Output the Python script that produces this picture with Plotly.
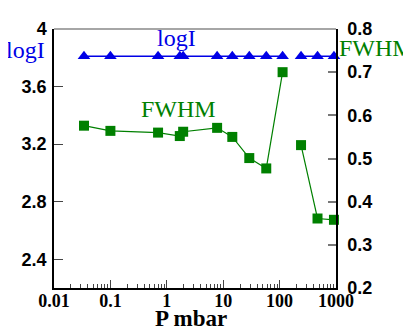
import plotly.graph_objects as go

# Data
pressure_mbar = [0.034, 0.1, 0.7, 1.7, 1.95, 7.8, 14.5, 29, 58, 113, 240, 470, 920]
log_i = [3.81, 3.81, 3.81, 3.81, 3.81, 3.81, 3.81, 3.81, 3.81, 3.81, 3.81, 3.81, 3.81]
fwhm = [0.576, 0.564, 0.560, 0.552, 0.562, 0.571, 0.550, 0.501, 0.477, 0.700, 0.531, 0.361, 0.358]
gap_after_index = 9  # the lines break between 113 and 240 mbar

x_ticks = [0.01, 0.1, 1, 10, 100, 1000]
x_ticktext = ["0.01", "0.1", "1", "10", "100", "1000"]
y_ticks = [2.4, 2.8, 3.2, 3.6, 4]
y_ticktext = ["2.4", "2.8", "3.2", "3.6", "4"]
y2_ticks = [0.2, 0.3, 0.4, 0.5, 0.6, 0.7, 0.8]
y2_ticktext = ["0.2", "0.3", "0.4", "0.5", "0.6", "0.7", "0.8"]


def with_gap(xs, ys, idx):
    gx = list(xs[: idx + 1]) + [None] + list(xs[idx + 1:])
    gy = list(ys[: idx + 1]) + [None] + list(ys[idx + 1:])
    return gx, gy


BLUE = "rgb(0,0,230)"
GREEN = "rgb(0,128,0)"
SERIF = "Liberation Serif"
SANS = "Liberation Sans"

fig = go.Figure()
gx, gy = with_gap(pressure_mbar, log_i, gap_after_index)
fig.add_trace(go.Scatter(
    x=gx, y=gy, mode="lines+markers", yaxis="y", connectgaps=False,
    line=dict(color=BLUE, width=1.5),
    marker=dict(symbol="triangle-up", size=11, color=BLUE),
    showlegend=False, cliponaxis=False,
))
gx2, gy2 = with_gap(pressure_mbar, fwhm, gap_after_index)
fig.add_trace(go.Scatter(
    x=gx2, y=gy2, mode="lines+markers", yaxis="y2", connectgaps=False,
    line=dict(color=GREEN, width=1.2),
    marker=dict(symbol="square", size=10, color=GREEN),
    showlegend=False, cliponaxis=False,
))

fig.update_layout(
    width=411, height=331,
    margin=dict(l=46, r=83, t=21, b=51, autoexpand=False),
    paper_bgcolor="white", plot_bgcolor="white",
    xaxis=dict(
        type="log", range=[-2, 3], tickvals=x_ticks, ticktext=x_ticktext,
        ticks="inside", ticklen=8, tickcolor="#444", tickwidth=1,
        showline=True, linecolor="black", linewidth=1.5,
        showgrid=False, zeroline=False,
        tickfont=dict(family=SERIF, size=18, color="black", weight="bold"),
        minor=dict(ticks="inside", ticklen=4, tickcolor="#444", dtick="D1", showgrid=False),
        ticklabelstandoff=-4,
        automargin=False,
    ),
    yaxis=dict(
        range=[2.2, 4], tickvals=y_ticks, ticktext=y_ticktext,
        ticks="inside", ticklen=9, tickcolor="#444", tickwidth=1,
        showline=True, linecolor="black", linewidth=1.5,
        showgrid=False, zeroline=False,
        tickfont=dict(family=SANS, size=18, color="black", weight="bold"),
        ticklabelstandoff=2, automargin=False,
    ),
    yaxis2=dict(
        range=[0.2, 0.8], tickvals=y2_ticks, ticktext=y2_ticktext,
        overlaying="y", side="right",
        ticks="inside", ticklen=8, tickcolor="#777", tickwidth=1.5,
        showline=True, linecolor="black", linewidth=1.5,
        showgrid=False, zeroline=False,
        tickfont=dict(family=SANS, size=18, color="black", weight="bold"),
        ticklabelstandoff=6, automargin=False,
    ),
    shapes=[dict(type="line", xref="paper", yref="paper", x0=0, x1=1, y0=1, y1=1,
                 line=dict(color="#888", width=1.5))],
    annotations=[
        dict(text="P mbar", xref="paper", yref="paper", x=0.486, y=-0.117,
             xanchor="center", yanchor="middle", showarrow=False,
             font=dict(family=SERIF, size=23, color="black", weight="bold")),
        dict(text="logI", xref="paper", yref="paper", x=-0.025, y=0.92,
             xanchor="right", yanchor="middle", showarrow=False,
             font=dict(family=SERIF, size=24, color=BLUE)),
        dict(text="logI", xref="paper", yref="paper", x=0.435, y=0.965,
             xanchor="center", yanchor="middle", showarrow=False,
             font=dict(family=SERIF, size=24, color=BLUE)),
        dict(text="FWHM", xref="paper", yref="paper", x=1.003, y=0.925,
             xanchor="left", yanchor="middle", showarrow=False,
             font=dict(family=SERIF, size=24, color=GREEN)),
        dict(text="FWHM", xref="paper", yref="paper", x=0.441, y=0.693,
             xanchor="center", yanchor="middle", showarrow=False,
             font=dict(family=SERIF, size=24, color=GREEN)),
    ],
)

fig.write_html("out.html")
